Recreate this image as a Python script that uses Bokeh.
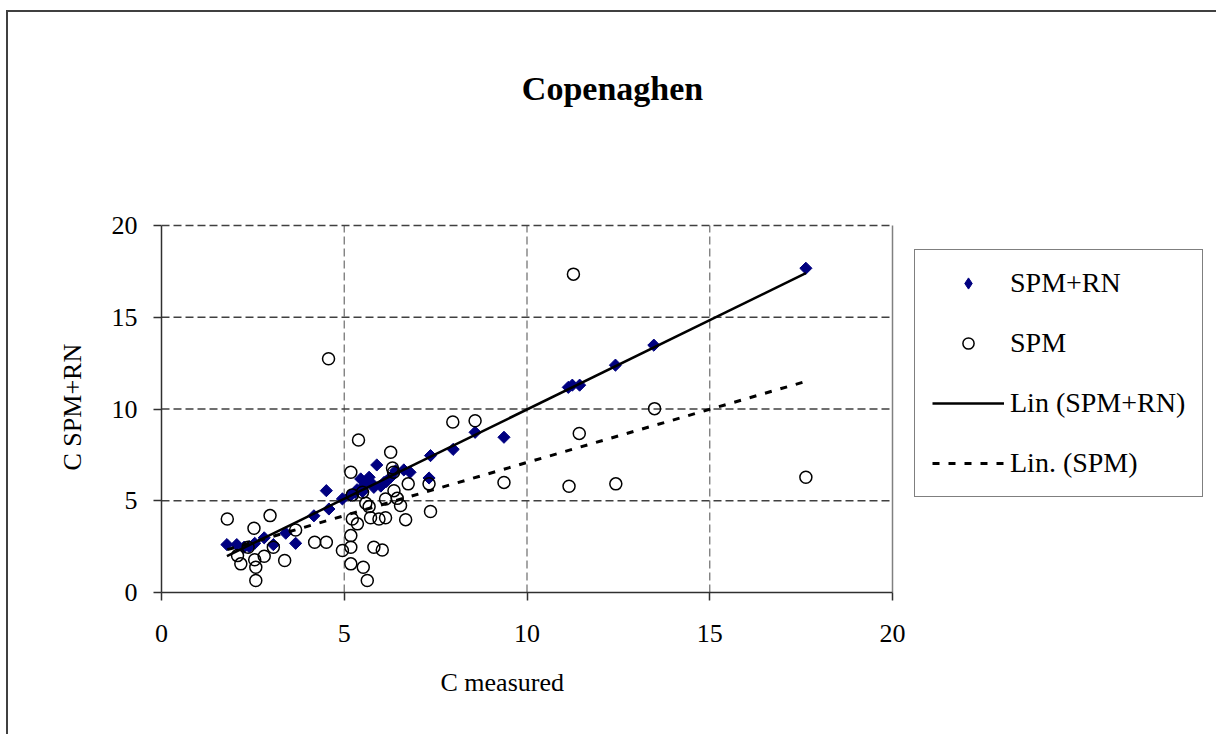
import numpy as np
from bokeh.plotting import figure
from bokeh.models import Range1d, FixedTicker, Legend, LegendItem, Label, Title
from bokeh.embed import file_html
from bokeh.resources import INLINE

# ---------------- data ----------------
title_text = "Copenaghen"
x_label = "C measured"
y_label = "C SPM+RN"
ticks = [0, 5, 10, 15, 20]
series_names = ["SPM+RN", "SPM", "Lin (SPM+RN)", "Lin. (SPM)"]

rn_x = [1.79, 2.06, 2.26, 2.40, 2.55, 2.81, 3.06, 3.40, 3.67, 4.17, 4.58, 4.51,
        4.95, 5.18, 5.30, 5.35, 5.45, 5.50, 5.54, 5.63, 5.68, 5.75, 5.81, 5.89,
        6.00, 6.09, 6.15, 6.27, 6.41, 6.63, 6.80, 7.32, 7.36, 7.98, 8.58, 9.37,
        11.13, 11.24, 11.44, 12.42, 13.47, 17.63]
rn_y = [2.61, 2.61, 2.47, 2.50, 2.68, 2.98, 2.61, 3.23, 2.68, 4.18, 4.55, 5.55,
        5.10, 5.30, 5.45, 5.60, 6.19, 5.50, 5.82, 6.10, 6.28, 5.95, 5.73, 6.95,
        5.80, 6.00, 6.05, 6.28, 6.64, 6.68, 6.55, 6.24, 7.46, 7.80, 8.73, 8.46,
        11.18, 11.30, 11.30, 12.39, 13.48, 17.67]

spm_x = [1.80, 2.08, 2.17, 2.37, 2.53, 2.55, 2.58, 2.58, 2.81, 2.97, 3.06, 3.37,
         3.67, 4.19, 4.51, 4.57, 4.95, 5.18, 5.18, 5.18, 5.18, 5.22, 5.22, 5.36,
         5.39, 5.50, 5.52, 5.59, 5.63, 5.68, 5.72, 5.81, 5.95, 6.04, 6.13, 6.13,
         6.27, 6.32, 6.35, 6.36, 6.45, 6.54, 6.68, 6.75, 7.32, 7.36, 7.97, 8.58,
         9.37, 11.15, 11.27, 11.43, 12.43, 13.49, 17.63]
spm_y = [4.01, 2.01, 1.56, 2.47, 3.50, 1.78, 1.38, 0.65, 1.98, 4.19, 2.47, 1.74,
         3.41, 2.74, 2.74, 12.74, 2.29, 6.55, 3.10, 2.47, 1.56, 4.01, 5.32, 3.74,
         8.31, 5.46, 1.38, 4.86, 0.65, 4.68, 4.07, 2.47, 4.01, 2.32, 4.07, 5.10,
         7.64, 6.79, 6.55, 5.55, 5.13, 4.74, 3.97, 5.92, 5.92, 4.41, 9.29, 9.36,
         6.00, 5.79, 17.35, 8.67, 5.92, 10.02, 6.28]

# ---------------- layout constants ----------------
SERIF = "Liberation Serif"
W, H = 1210, 724
BORDER_L, BORDER_B = 153, 144
PLOT_W, PLOT_H = 731, 367          # pixel size of the 0..20 x 0..20 plot area
FRAME_W, FRAME_H = W - BORDER_L, H - BORDER_B
lo, hi = min(ticks), max(ticks)
x_end = hi * FRAME_W / PLOT_W
y_end = hi * FRAME_H / PLOT_H

p = figure(width=W, height=H, output_backend="svg", toolbar_location=None,
           x_range=Range1d(lo, x_end), y_range=Range1d(lo, y_end),
           min_border_left=BORDER_L, min_border_right=0,
           min_border_top=0, min_border_bottom=BORDER_B,
           background_fill_color="white", border_fill_color="white",
           outline_line_color=None)
p.margin = (10, 0, 0, 6)
p.styles = {"border-left": "2px solid #404040", "border-top": "2px solid #404040"}
p.xgrid.visible = False
p.ygrid.visible = False

for ax in (p.xaxis[0], p.yaxis[0]):
    ax.ticker = FixedTicker(ticks=ticks)
    ax.bounds = (lo, hi)
    ax.minor_tick_line_color = None
    ax.major_tick_in = 0
    ax.major_tick_out = 8
    ax.axis_line_color = "#303030"
    ax.axis_line_width = 1.5
    ax.major_tick_line_color = "#303030"
    ax.major_tick_line_width = 1.5
    ax.major_label_text_font = SERIF
    ax.major_label_text_font_size = "26px"
    ax.major_label_text_color = "black"
p.xaxis.major_label_standoff = 24
p.yaxis.major_label_standoff = 16

# axis titles, placed along the plot area (not the whole frame)
p.add_layout(Title(text=x_label, align="left", offset=279, vertical_align="top",
                   standoff=46, text_font=SERIF, text_font_size="26px",
                   text_font_style="normal", text_color="black"), "below")
p.add_layout(Title(text=y_label, align="left", offset=122, vertical_align="bottom",
                   standoff=44, text_font=SERIF, text_font_size="26px",
                   text_font_style="normal", text_color="black"), "left")

# dashed grid of the plot area, from the tick list
inner = [t for t in ticks if lo < t < hi]
upper = [t for t in ticks if t > lo]
p.segment(x0=inner, y0=[lo] * len(inner), x1=inner, y1=[hi] * len(inner),
          line_color="#777777", line_width=1.3, line_dash="8 4")
p.segment(x0=[lo] * len(upper), y0=upper, x1=[hi] * len(upper), y1=upper,
          line_color="#404040", line_width=1.3, line_dash="8 4")
# solid right edge of the plot area
p.segment(x0=[hi], y0=[lo], x1=[hi], y1=[hi], line_color="#808080", line_width=1.5)

# trend lines (least squares fit of each series)
rn_fit = np.polyfit(rn_x, rn_y, 1)
spm_fit = np.polyfit(spm_x, spm_y, 1)
xr = np.array([min(rn_x), max(rn_x)])
xs = np.array([min(spm_x), max(spm_x)])

NAVY = "#000080"
# diamond key renderer (hidden below the rotated squares, used by the legend)
r_rn_key = p.scatter(rn_x, rn_y, marker="diamond", size=9,
                     fill_color=NAVY, line_color=NAVY)
p.scatter(rn_x, rn_y, marker="square", angle=np.pi / 4, size=8.6,
          fill_color=NAVY, line_color=NAVY)
r_spm = p.scatter(spm_x, spm_y, marker="circle", size=12, fill_color=None,
                  line_color="black", line_width=1.5)
r_lin_rn = p.line(xr, np.polyval(rn_fit, xr), line_color="black", line_width=2.5)
r_lin_spm = p.line(xs, np.polyval(spm_fit, xs), line_color="black", line_width=3,
                   line_dash="7 9")

legend = Legend(items=[
    LegendItem(label=series_names[0], renderers=[r_rn_key]),
    LegendItem(label=series_names[1], renderers=[r_spm]),
    LegendItem(label=series_names[2], renderers=[r_lin_rn]),
    LegendItem(label=series_names[3], renderers=[r_lin_spm]),
], location=(753, 95))
legend.glyph_width = 72
legend.glyph_height = 28
legend.label_height = 20
legend.label_width = 160
legend.label_standoff = 6
legend.spacing = 28
legend.padding = 17
legend.margin = 0
legend.border_line_color = "black"
legend.border_line_width = 1.5
legend.background_fill_color = "white"
legend.background_fill_alpha = 1
legend.label_text_font = SERIF
legend.label_text_font_size = "28px"
legend.label_text_color = "black"
p.add_layout(legend, "center")

p.add_layout(Label(x=12.34, y=27.44, text=title_text, text_font=SERIF,
                   text_font_size="34px", text_font_style="bold",
                   text_align="center", text_baseline="middle",
                   text_color="black"))

open("out.html", "w").write(file_html(p, INLINE))
